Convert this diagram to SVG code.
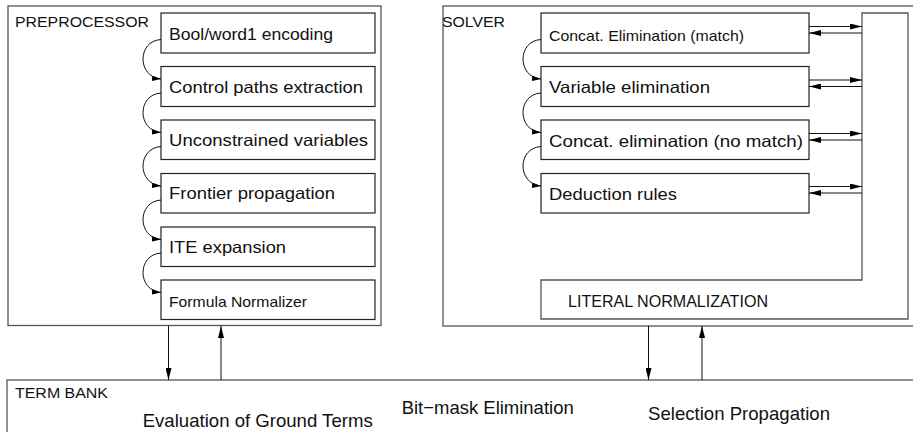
<svg xmlns="http://www.w3.org/2000/svg" width="913" height="432" viewBox="0 0 913 432">
  <style>
    .outer { fill: #fff; stroke: #555; stroke-width: 1.3; }
    .box { fill: #fff; stroke: #222; stroke-width: 1.2; }
    .lbl { font-family: "Liberation Sans", Arial, sans-serif; fill: #111; }
    .big { font-size: 16.5px; }
    .small { font-size: 14.5px; }
    .head { font-size: 14px; }
    .term { font-size: 19px; }
    .conn { fill: none; stroke: #111; stroke-width: 1; }
  </style>
  <defs>
    <marker id="ah" viewBox="0 0 12 6" refX="12" refY="3" markerWidth="12" markerHeight="6" markerUnits="userSpaceOnUse" orient="auto">
      <path d="M0,0 L12,3 L0,6 Z" fill="#000"/>
    </marker>
    <marker id="ahc" viewBox="0 0 10 6" refX="10" refY="3" markerWidth="9" markerHeight="5.5" markerUnits="userSpaceOnUse" orient="auto">
      <path d="M0,0 L10,3 L0,6 Z" fill="#000"/>
    </marker>
  </defs>

  <!-- outer containers -->
  <g id="preprocessor">
    <rect class="outer" x="8" y="6" width="373" height="319.5"/>
    <text class="lbl head" x="15" y="26.7" textLength="134" lengthAdjust="spacingAndGlyphs">PREPROCESSOR</text>
  </g>
  <g id="solver">
    <rect class="outer" x="443" y="6" width="480" height="320"/>
    <text class="lbl head" x="442" y="26.7" textLength="63" lengthAdjust="spacingAndGlyphs">SOLVER</text>
  </g>
  <g id="term-bank">
    <rect class="outer" x="7" y="380" width="920" height="70"/>
    <text class="lbl head" x="15" y="398" textLength="93" lengthAdjust="spacingAndGlyphs">TERM BANK</text>
    <text class="lbl term" x="142.7" y="427.3" textLength="230" lengthAdjust="spacingAndGlyphs">Evaluation of Ground Terms</text>
    <text class="lbl term" x="401.7" y="414.3" textLength="172" lengthAdjust="spacingAndGlyphs">Bit−mask Elimination</text>
    <text class="lbl term" x="648" y="420" textLength="182" lengthAdjust="spacingAndGlyphs">Selection Propagation</text>
  </g>

  <!-- preprocessor stages -->
  <g id="pre-bool">
    <rect class="box" x="161" y="13" width="214" height="40"/>
    <text class="lbl big" x="169" y="39.5" textLength="164" lengthAdjust="spacingAndGlyphs">Bool/word1 encoding</text>
  </g>
  <g id="pre-control">
    <rect class="box" x="161" y="66.5" width="214" height="40"/>
    <text class="lbl big" x="169" y="92.5" textLength="194" lengthAdjust="spacingAndGlyphs">Control paths extraction</text>
  </g>
  <g id="pre-unconstrained">
    <rect class="box" x="161" y="120" width="214" height="39.5"/>
    <text class="lbl big" x="169" y="146" textLength="199" lengthAdjust="spacingAndGlyphs">Unconstrained variables</text>
  </g>
  <g id="pre-frontier">
    <rect class="box" x="161" y="173.5" width="214" height="39.5"/>
    <text class="lbl big" x="169" y="199" textLength="166" lengthAdjust="spacingAndGlyphs">Frontier propagation</text>
  </g>
  <g id="pre-ite">
    <rect class="box" x="161" y="227" width="214" height="39.5"/>
    <text class="lbl big" x="169" y="252.5" textLength="117" lengthAdjust="spacingAndGlyphs">ITE expansion</text>
  </g>
  <g id="pre-normalizer">
    <rect class="box" x="161" y="280" width="214" height="39.5"/>
    <text class="lbl small" x="169" y="306.5" textLength="138" lengthAdjust="spacingAndGlyphs">Formula Normalizer</text>
  </g>

  <!-- solver stages -->
  <g id="sol-concat-match">
    <rect class="box" x="541" y="13" width="268" height="40"/>
    <text class="lbl small" x="549" y="40.7" textLength="195" lengthAdjust="spacingAndGlyphs">Concat. Elimination (match)</text>
  </g>
  <g id="sol-variable">
    <rect class="box" x="541" y="66.5" width="268" height="40"/>
    <text class="lbl big" x="549" y="93.3" textLength="161" lengthAdjust="spacingAndGlyphs">Variable elimination</text>
  </g>
  <g id="sol-concat-nomatch">
    <rect class="box" x="541" y="120" width="268" height="39.5"/>
    <text class="lbl big" x="549" y="146.7" textLength="254" lengthAdjust="spacingAndGlyphs">Concat. elimination (no match)</text>
  </g>
  <g id="sol-deduction">
    <rect class="box" x="541" y="173.5" width="268" height="39.5"/>
    <text class="lbl big" x="549" y="200" textLength="128" lengthAdjust="spacingAndGlyphs">Deduction rules</text>
  </g>
  <g id="sol-literal">
    <path class="outer" d="M862,280 V13 H908 V319 H541 V280 Z"/>
    <text class="lbl big" x="568" y="306.7" textLength="200" lengthAdjust="spacingAndGlyphs">LITERAL NORMALIZATION</text>
  </g>

  <!-- connectors -->
  <g id="connectors">
    <!-- preprocessor chain -->
    <path class="conn" marker-end="url(#ahc)" d="M161,39.5 C137,41 137,77 161,79"/>
    <path class="conn" marker-end="url(#ahc)" d="M161,93 C137,94.5 137,130.5 161,132.5"/>
    <path class="conn" marker-end="url(#ahc)" d="M161,146.5 C137,148 137,184 161,186"/>
    <path class="conn" marker-end="url(#ahc)" d="M161,200 C137,201.5 137,237.5 161,239.5"/>
    <path class="conn" marker-end="url(#ahc)" d="M161,253 C137,254.5 137,290.5 161,292.5"/>
    <!-- solver chain -->
    <path class="conn" marker-end="url(#ahc)" d="M541,39.5 C517,41 517,77 541,79"/>
    <path class="conn" marker-end="url(#ahc)" d="M541,93 C517,94.5 517,130.5 541,132.5"/>
    <path class="conn" marker-end="url(#ahc)" d="M541,146.5 C517,148 517,184 541,186"/>
    <!-- solver stages to and from literal normalization -->
    <path class="conn" marker-end="url(#ah)" d="M809,26.5 H862"/>
    <path class="conn" marker-end="url(#ah)" d="M862,33 H809"/>
    <path class="conn" marker-end="url(#ah)" d="M809,80 H862"/>
    <path class="conn" marker-end="url(#ah)" d="M862,86.5 H809"/>
    <path class="conn" marker-end="url(#ah)" d="M809,133.5 H862"/>
    <path class="conn" marker-end="url(#ah)" d="M862,140 H809"/>
    <path class="conn" marker-end="url(#ah)" d="M809,186.5 H862"/>
    <path class="conn" marker-end="url(#ah)" d="M862,193 H809"/>
    <!-- term bank links -->
    <path class="conn" marker-end="url(#ah)" d="M168.5,326 V380"/>
    <path class="conn" marker-end="url(#ah)" d="M221,380 V326"/>
    <path class="conn" marker-end="url(#ah)" d="M648.5,326 V380"/>
    <path class="conn" marker-end="url(#ah)" d="M702,380 V326"/>
  </g>
</svg>
